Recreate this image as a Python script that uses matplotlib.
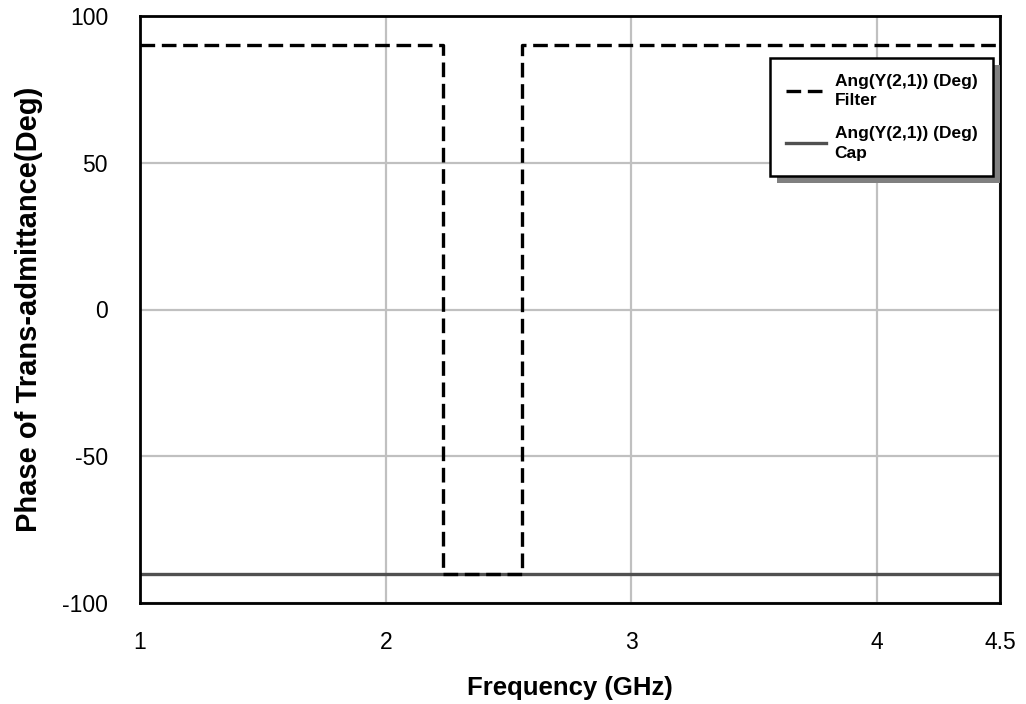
import matplotlib.pyplot as plt
from matplotlib.patches import Rectangle

# Data
freq_filter = [1.0, 2.235, 2.235, 2.555, 2.555, 4.5]
phase_filter = [90, 90, -90, -90, 90, 90]
freq_cap = [1.0, 4.5]
phase_cap = [-90, -90]

x_ticks = [1, 2, 3, 4, 4.5]
x_tick_labels = ["1", "2", "3", "4", "4.5"]
y_ticks = [-100, -50, 0, 50, 100]
y_tick_labels = ["-100", "-50", "0", "50", "100"]

plt.rcParams['font.family'] = ['Liberation Sans', 'DejaVu Sans']

fig = plt.figure(figsize=(10.26, 7.04), dpi=100)
ax = fig.add_axes([140 / 1026, 101 / 704, 860 / 1026, 587 / 704])

ax.plot(freq_filter, phase_filter, color='black', lw=2.4, ls=(0, (4.4, 2.0)),
        label='Ang(Y(2,1)) (Deg)\nFilter', zorder=3)
ax.plot(freq_cap, phase_cap, color='#505050', lw=2.4,
        label='Ang(Y(2,1)) (Deg)\nCap', zorder=2)

ax.set_xlim(1, 4.5)
ax.set_ylim(-100, 100)
ax.set_xticks(x_ticks)
ax.set_xticklabels(x_tick_labels)
ax.set_yticks(y_ticks)
ax.set_yticklabels(y_tick_labels)
ax.grid(True, color='#c0c0c0', lw=1.6)
ax.tick_params(length=0, labelsize=16.5)
ax.tick_params(axis='x', pad=20)
ax.tick_params(axis='y', pad=23)
for s in ax.spines.values():
    s.set_linewidth(2)
    s.set_color('black')

ax.set_xlabel('Frequency (GHz)', fontsize=18.5, fontweight='bold', labelpad=16)
ax.set_ylabel('Phase of Trans-admittance(Deg)', fontsize=21, fontweight='bold', labelpad=14)

leg = ax.legend(loc='upper right', bbox_to_anchor=(993 / 1026, (704 - 58) / 704),
                bbox_transform=fig.transFigure, borderaxespad=0, frameon=True,
                fancybox=False, edgecolor='black', framealpha=1, borderpad=0.9,
                labelspacing=1.0, handlelength=2.3, handletextpad=0.5,
                prop={'weight': 'bold', 'size': 12.5})
leg.get_frame().set_linewidth(1.8)
leg.set_zorder(6)
for t in leg.get_texts():
    t.set_linespacing(1.4)

fig.canvas.draw()
bb = leg.get_window_extent().transformed(fig.transFigure.inverted())
shadow = Rectangle((bb.x0 + 7 / 1026, bb.y0 - 7 / 704), bb.width, bb.height,
                   transform=fig.transFigure, facecolor='#808080',
                   edgecolor='none', zorder=5, clip_on=False)
ax.add_patch(shadow)

fig.savefig('out.png', dpi=100)
